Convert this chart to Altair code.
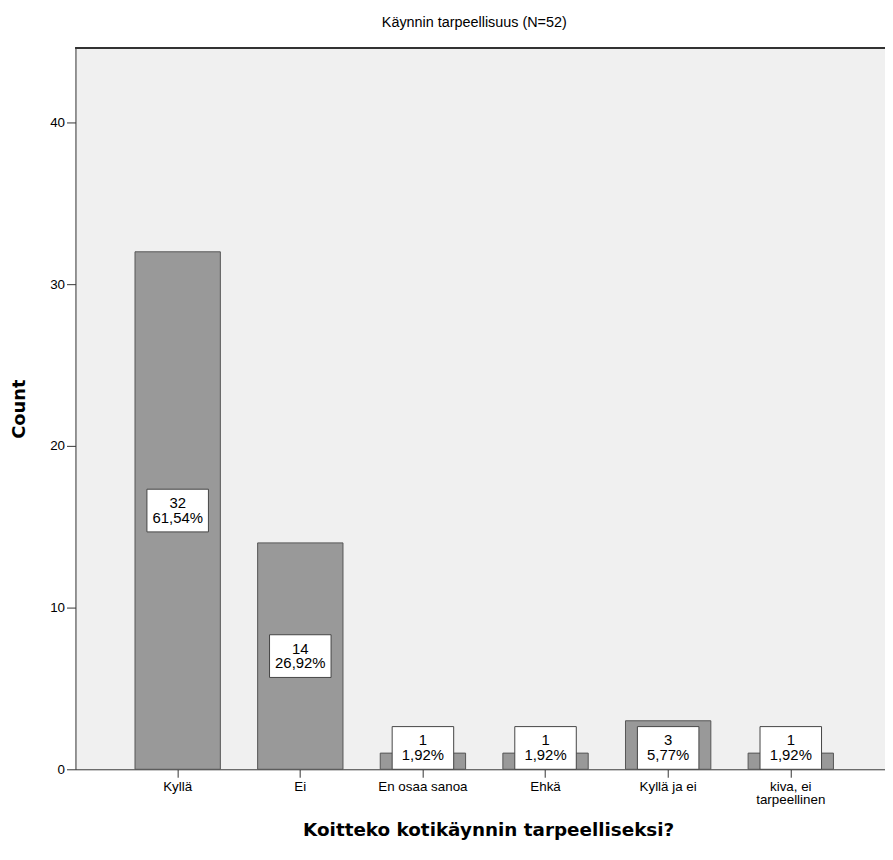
import altair as alt
import pandas as pd

categories = ["Kyllä", "Ei", "En osaa sanoa", "Ehkä", "Kyllä ja ei", "kiva, ei tarpeellinen"]
counts = [32, 14, 1, 1, 3, 1]
percents = ["61,54%", "26,92%", "1,92%", "1,92%", "5,77%", "1,92%"]

df = pd.DataFrame({"cat": categories, "count": counts, "pct": percents})

W, H = 816, 727
BOX_H = 2.64  # label box height in count units
LH = 15

x_enc = alt.X(
    "cat:N",
    sort=categories,
    scale=alt.Scale(paddingInner=0.304, paddingOuter=0.453, align=0.536),
    axis=alt.Axis(
        title="Koitteko kotikäynnin tarpeelliseksi?",
        titleFont="DejaVu Sans",
        titleFontSize=18.5,
        titleFontWeight="bold",
        titleColor="#000",
        titleY=61,
        titleX=416,
        titleBaseline="middle",
        labelAngle=0,
        labelFont="Liberation Sans",
        labelFontSize=13.5,
        labelColor="#000",
        labelPadding=2,
        labelLineHeight=14,
        labelExpr="datum.label == 'kiva, ei tarpeellinen' ? ['kiva, ei', 'tarpeellinen'] : datum.label",
        tickSize=8,
        tickColor="#333",
        domainColor="#333",
        grid=False,
    ),
)

y_scale = alt.Scale(domain=[0, 44.6], nice=False, zero=True)

bars = alt.Chart(df).mark_bar(fill="#999999", stroke="#555555", strokeWidth=1).encode(
    x=x_enc,
    y=alt.Y(
        "count:Q",
        scale=y_scale,
        axis=alt.Axis(
            title="Count",
            titleFont="DejaVu Sans",
            titleFontSize=18,
            titleFontWeight="bold",
            titleColor="#000",
            titleX=-56,
            titleY=H / 2,
            titleAngle=-90,
            titleAlign="center",
            titleBaseline="middle",
            values=[0, 10, 20, 30, 40],
            labelFont="Liberation Sans",
            labelFontSize=13.5,
            labelColor="#000",
            labelPadding=2,
            tickSize=9,
            tickColor="#333",
            domainColor="#333",
            grid=False,
        ),
    ),
)

boxes_base = alt.Chart(df).transform_calculate(
    center=f"datum.count / 2 < {BOX_H} ? {BOX_H / 2} : datum.count / 2",
    lo=f"(datum.count / 2 < {BOX_H} ? {BOX_H / 2} : datum.count / 2) - {BOX_H / 2}",
    hi=f"(datum.count / 2 < {BOX_H} ? {BOX_H / 2} : datum.count / 2) + {BOX_H / 2}",
    lines="[toString(datum.count), datum.pct]",
)

boxes = boxes_base.mark_bar(size=62, fill="white", stroke="#444444", strokeWidth=1).encode(
    x=alt.X("cat:N", sort=categories),
    y=alt.Y("lo:Q", scale=y_scale),
    y2="hi:Q",
)

texts = boxes_base.mark_text(
    font="Liberation Sans", fontSize=15, color="#000", baseline="middle", align="center",
    lineHeight=LH, dy=-LH / 2,
).encode(
    x=alt.X("cat:N", sort=categories),
    y=alt.Y("center:Q", scale=y_scale),
    text="lines:N",
)

top_line = alt.Chart(df).mark_rule(color="#333", strokeWidth=1.5).encode(
    x=alt.value(0), x2=alt.value(W), y=alt.value(0)
)

chart = alt.layer(bars, boxes, texts, top_line).properties(
    width=W,
    height=H,
    title=alt.TitleParams(
        "Käynnin tarpeellisuus (N=52)",
        font="Liberation Sans",
        fontSize=14.5,
        fontWeight="normal",
        color="#000",
        anchor="middle",
        dx=-6,
        offset=17,
    ),
    autosize=alt.AutoSizeParams(type="none"),
    padding={"left": 68, "top": 37, "right": 0, "bottom": 80},
).configure_view(fill="#f0f0f0", stroke=None)

chart.save("out.html", embed_options={"renderer": "svg", "actions": False})
